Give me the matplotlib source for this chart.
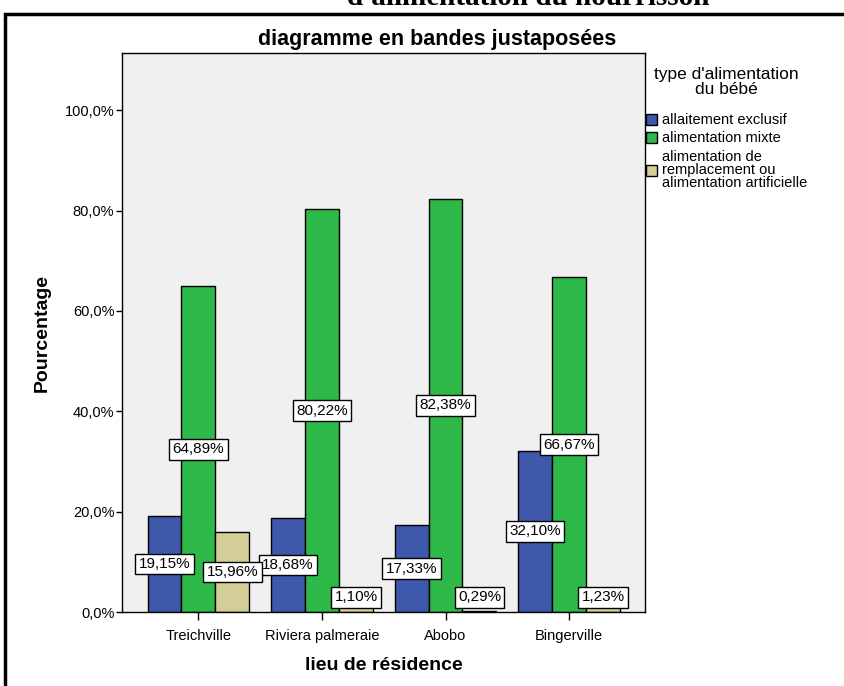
import numpy as np
import matplotlib.pyplot as plt
from matplotlib.patches import Rectangle

plt.rcParams['font.family'] = ['Liberation Sans', 'DejaVu Sans']

lieux = ["Treichville", "Riviera palmeraie", "Abobo", "Bingerville"]
allaitement = [19.15, 18.68, 17.33, 32.10]
mixte = [64.89, 80.22, 82.38, 66.67]
remplacement = [15.96, 1.10, 0.29, 1.23]
series_noms = ["allaitement exclusif", "alimentation mixte",
               "alimentation de\nremplacement ou\nalimentation artificielle"]
couleurs = ["#3E58AC", "#2EB848", "#D3CE97"]
yticks = [0, 20, 40, 60, 80, 100]

fig = plt.figure(figsize=(8.44, 6.86), dpi=100)
ax = fig.add_axes([122/844, 74/686, 523/844, 559/686])
ax.set_facecolor("#F0F0F0")

x = np.arange(len(lieux))
w = 0.275
handles = []
for i, (vals, c) in enumerate(zip([allaitement, mixte, remplacement], couleurs)):
    pos = x + (i - 1) * w
    b = ax.bar(pos, vals, w, color=c, edgecolor="black", linewidth=1, zorder=2)
    handles.append(b)
    for p, v in zip(pos, vals):
        yl = max(v / 2, 2.9)
        ax.text(p, yl, f"{v:.2f}%".replace(".", ","), ha="center", va="center",
                fontsize=11, zorder=4,
                bbox=dict(boxstyle="square,pad=0.22", fc="white", ec="black", lw=1))

ax.set_xlim(-0.619, 3.615)
ax.set_ylim(0, 111.4)
ax.set_xticks(x)
ax.set_xticklabels(lieux, fontsize=10.5)
ax.set_yticks(yticks)
ax.set_yticklabels([f"{t:.1f}%".replace(".", ",") for t in yticks], fontsize=10.5)
ax.tick_params(axis="x", length=6, width=1, direction="out", pad=6)
ax.tick_params(axis="y", length=4.5, width=1, direction="out", pad=1)
for s in ax.spines.values():
    s.set_linewidth(1)

ax.set_xlabel("lieu de résidence", fontsize=14, fontweight="bold", labelpad=10)
ax.set_ylabel("Pourcentage", fontsize=14, fontweight="bold", labelpad=10)

fig.text(437/844, 1 - 45/686, "diagramme en bandes justaposées", ha="center",
         va="baseline", fontsize=15.5, fontweight="bold")

leg = fig.legend(handles, series_noms, title="type d'alimentation\ndu bébé",
                 loc="upper left", bbox_to_anchor=(637/844, 1 - 58/686),
                 frameon=False, fontsize=10.5, title_fontsize=12.5,
                 handlelength=0.8, handleheight=0.8, handletextpad=0.3,
                 labelspacing=0.28, borderpad=0.1, alignment="center")
plt.setp(leg.get_texts(), linespacing=0.95)
leg.get_title().set_linespacing(1.0)
leg.get_title().set_multialignment("center")
leg._legend_box.sep = 12

# cadre noir autour du graphique et titre coupé en haut
fig.patches.append(Rectangle((5/844, -0.2), 2, 1.2 - 14/686, transform=fig.transFigure,
                             fill=False, ec="black", lw=2.5, clip_on=False))
fig.text(528/844, 1 - 5/686, "d'alimentation du nourrisson", ha="center",
         va="baseline", fontsize=21, fontweight="bold", family="Liberation Serif")

fig.savefig("out.png", dpi=100)
